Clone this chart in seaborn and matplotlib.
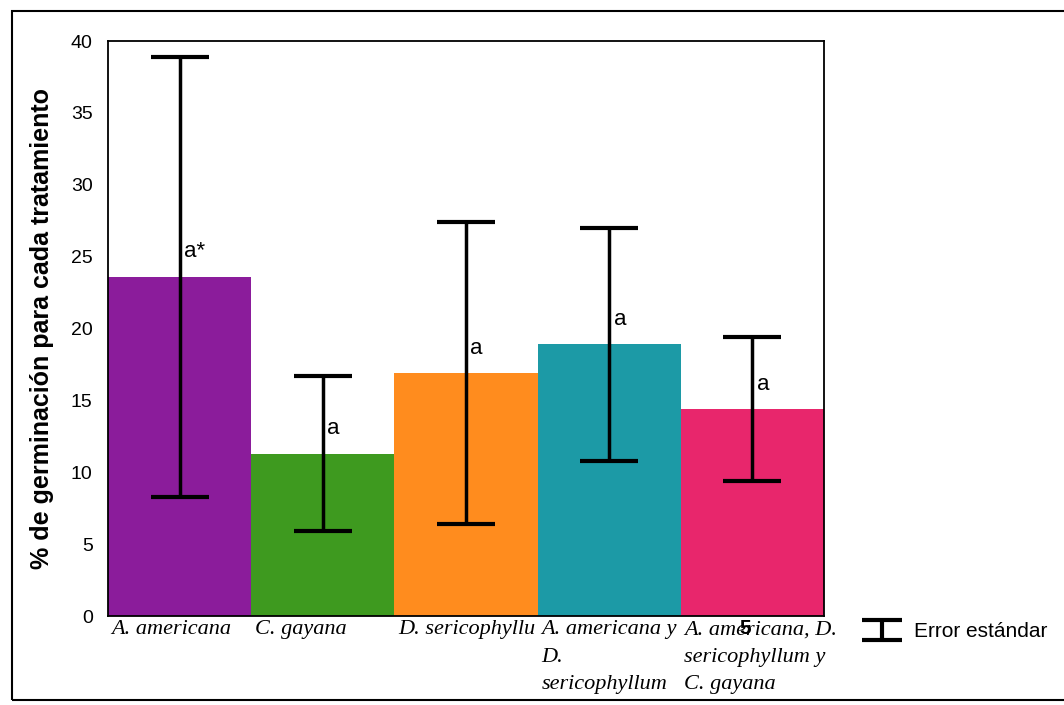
#%% modules
import numpy as np
import pandas as pd
import seaborn as sns
import matplotlib.pyplot as plt
import matplotlib.transforms as mtransforms
from matplotlib.lines import Line2D
from matplotlib.path import Path
from matplotlib.patches import Rectangle

#%% data
tratamientos = ["A. americana", "C. gayana", "D. sericophyllu",
                "A. americana y\nD.\nsericophyllum",
                "A. americana, D.\nsericophyllum y\nC. gayana"]
germinacion = [23.6, 11.3, 16.9, 18.9, 14.4]
error_std = [15.3, 5.4, 10.5, 8.1, 5.0]
letras = ["a*", "a", "a", "a", "a"]
colores = ["#8B1C9B", "#3E9A1F", "#FF8C1E", "#1C9AA6", "#E8266C"]

df = pd.DataFrame({"tratamiento": tratamientos, "germinacion": germinacion})

#%% figure
sns.set_style("white")
plt.rcParams["font.family"] = ["Liberation Sans", "DejaVu Sans"]
plt.rcParams.update({"text.color": "black", "axes.labelcolor": "black",
                     "xtick.color": "black", "ytick.color": "black"})

fig = plt.figure(figsize=(10.64, 7.05), dpi=100)
ax = fig.add_axes([0.1015, 0.1262, 0.673, 0.8156])

sns.barplot(data=df, x="tratamiento", y="germinacion", hue="tratamiento",
            palette=colores, width=1.0, errorbar=None, linewidth=0,
            saturation=1, legend=False, ax=ax)

ax.errorbar(np.arange(len(germinacion)), germinacion, yerr=error_std,
            fmt="none", ecolor="black", elinewidth=2.5, capsize=21,
            capthick=3)

for i, (v, letra) in enumerate(zip(germinacion, letras)):
    ax.text(i + 0.03, v + 1.0, letra, fontsize=16, ha="left", va="bottom")

#%% axes styling
ax.set_ylim(0, 40)
ax.set_xlim(-0.5, len(tratamientos) - 0.5)
ax.set_yticks(range(0, 41, 5))
ax.tick_params(axis="y", length=0, pad=11, labelsize=14)
ax.tick_params(axis="x", length=0, pad=3)
ax.set_xlabel("")
ax.set_ylabel("% de germinación para cada tratamiento", fontsize=18,
              fontweight="bold", labelpad=12)
for s in ax.spines.values():
    s.set_visible(True)
    s.set_color("black")
    s.set_linewidth(1.3)

ax.set_xticks(range(len(tratamientos)))
ax.set_xticklabels(tratamientos, ha="left", va="top", fontsize=16,
                   family="Liberation Serif", style="italic",
                   linespacing=1.6)
shift = mtransforms.ScaledTranslation(-0.68, 0, fig.dpi_scale_trans)
for lab in ax.get_xticklabels():
    lab.set_transform(lab.get_transform() + shift)

# stray mark in the scanned original
fig.text(0.7, 0.1, "5", fontsize=15, fontweight="bold", ha="center")

#%% legend with an I-shaped error symbol
ibeam = Path([(-1, 0.5), (1, 0.5), (0, 0.5), (0, -0.5), (-1, -0.5), (1, -0.5)],
             [Path.MOVETO, Path.LINETO, Path.MOVETO, Path.LINETO,
              Path.MOVETO, Path.LINETO])
handle = Line2D([], [], marker=ibeam, markersize=29, markeredgewidth=3,
                color="black", linestyle="none")
fig.legend([handle], ["Error estándar"], loc="center left",
           bbox_to_anchor=(0.792, 0.104), frameon=False, fontsize=15,
           handlelength=2.0, handletextpad=0.5)

#%% outer frame
fig.patches.append(Rectangle((0.0113, 0.007), 1.2, 0.977, transform=fig.transFigure,
                             fill=False, edgecolor="black", linewidth=1.5))

fig.savefig("out.png", dpi=100)
